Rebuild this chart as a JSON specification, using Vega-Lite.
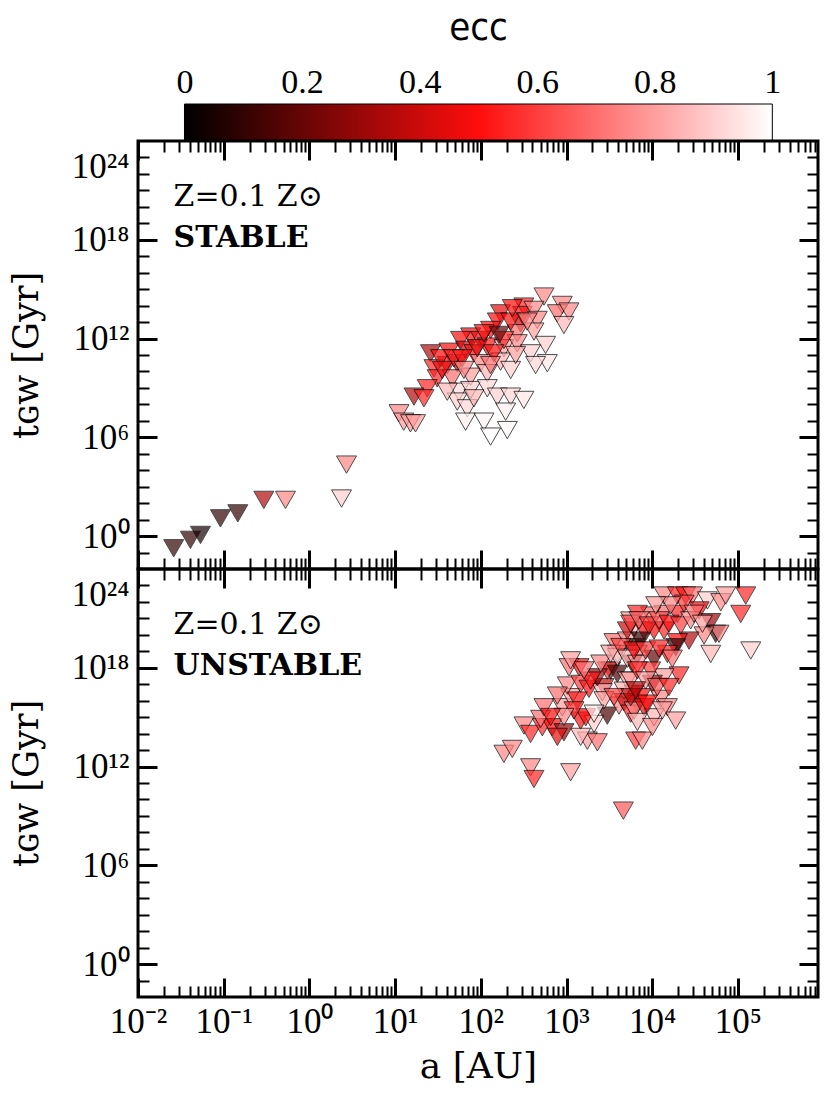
{
  "$schema": "https://vega.github.io/schema/vega-lite/v6.json",
  "padding": {"left": 7, "top": 9, "right": 0, "bottom": 0},
  "spacing": 0,
  "bounds": "flush",
  "config": {
    "font": "Liberation Serif",
    "view": {"stroke": "#000", "strokeWidth": 3},
    "axis": {"grid": false, "labelColor": "#000", "tickColor": "#000", "titleColor": "#000", "domain": false}
  },
  "datasets": {
    "top": [
      {"a": 546, "t": 3.55e14, "ecc": 0.75},
      {"a": 893, "t": 1.10e14, "ecc": 0.75},
      {"a": 780, "t": 3.39e13, "ecc": 0.7},
      {"a": 1069, "t": 4.37e13, "ecc": 0.75},
      {"a": 933, "t": 6.61e12, "ecc": 0.85},
      {"a": 318, "t": 8.71e13, "ecc": 0.55},
      {"a": 170, "t": 3.39e13, "ecc": 0.45},
      {"a": 305, "t": 2.69e13, "ecc": 0.5},
      {"a": 417, "t": 5.50e13, "ecc": 0.75},
      {"a": 456, "t": 1.35e13, "ecc": 0.75},
      {"a": 156, "t": 1.07e13, "ecc": 0.5},
      {"a": 291, "t": 8.51e12, "ecc": 0.4},
      {"a": 130, "t": 3.31e12, "ecc": 0.5},
      {"a": 266, "t": 2.09e12, "ecc": 0.7},
      {"a": 417, "t": 2.63e12, "ecc": 0.8},
      {"a": 570, "t": 4.07e11, "ecc": 0.9},
      {"a": 76.0, "t": 1.32e12, "ecc": 0.5},
      {"a": 58.1, "t": 8.13e11, "ecc": 0.5},
      {"a": 99.3, "t": 8.13e11, "ecc": 0.45},
      {"a": 119, "t": 3.24e11, "ecc": 0.52},
      {"a": 25.9, "t": 1.26e11, "ecc": 0.35},
      {"a": 42.5, "t": 1.58e11, "ecc": 0.5},
      {"a": 66.4, "t": 2.04e11, "ecc": 0.4},
      {"a": 83.2, "t": 1.26e11, "ecc": 0.5},
      {"a": 186, "t": 2.57e11, "ecc": 0.8},
      {"a": 266, "t": 5.13e11, "ecc": 0.75},
      {"a": 381, "t": 1.26e11, "ecc": 0.9},
      {"a": 597, "t": 3.16e10, "ecc": 0.95},
      {"a": 436, "t": 2.45e10, "ecc": 0.92},
      {"a": 28.4, "t": 1.55e10, "ecc": 0.55},
      {"a": 40.6, "t": 2.45e10, "ecc": 0.5},
      {"a": 53.1, "t": 3.16e10, "ecc": 0.4},
      {"a": 99.3, "t": 3.16e10, "ecc": 0.75},
      {"a": 170, "t": 3.98e10, "ecc": 0.85},
      {"a": 223, "t": 1.23e10, "ecc": 0.9},
      {"a": 31.0, "t": 3.80e9, "ecc": 0.55},
      {"a": 46.5, "t": 3.80e9, "ecc": 0.7},
      {"a": 76.0, "t": 4.79e9, "ecc": 0.8},
      {"a": 119, "t": 7.76e9, "ecc": 0.85},
      {"a": 23.7, "t": 9.55e8, "ecc": 0.55},
      {"a": 16.6, "t": 2.95e8, "ecc": 0.35},
      {"a": 21.7, "t": 2.34e8, "ecc": 0.55},
      {"a": 55.5, "t": 5.89e8, "ecc": 0.93},
      {"a": 76.0, "t": 7.41e8, "ecc": 0.9},
      {"a": 119, "t": 9.55e8, "ecc": 0.92},
      {"a": 156, "t": 2.95e8, "ecc": 0.9},
      {"a": 223, "t": 2.95e8, "ecc": 0.92},
      {"a": 318, "t": 1.86e8, "ecc": 0.95},
      {"a": 53.1, "t": 1.48e8, "ecc": 0.9},
      {"a": 69.5, "t": 5.75e7, "ecc": 0.92},
      {"a": 195, "t": 3.63e7, "ecc": 0.97},
      {"a": 11.1, "t": 2.88e7, "ecc": 0.75},
      {"a": 12.6, "t": 8.91e6, "ecc": 0.8},
      {"a": 15.1, "t": 7.08e6, "ecc": 0.78},
      {"a": 17.3, "t": 7.08e6, "ecc": 0.8},
      {"a": 66.4, "t": 8.91e6, "ecc": 0.97},
      {"a": 109, "t": 8.91e6, "ecc": 0.98},
      {"a": 204, "t": 2.75e6, "ecc": 0.99},
      {"a": 130, "t": 1.10e6, "ecc": 1.0},
      {"a": 33.9, "t": 6.31e10, "ecc": 0.5},
      {"a": 48.5, "t": 6.31e10, "ecc": 0.55},
      {"a": 60.7, "t": 6.31e10, "ecc": 0.5},
      {"a": 91.0, "t": 2.57e11, "ecc": 0.45},
      {"a": 109, "t": 2.09e12, "ecc": 0.5},
      {"a": 223, "t": 1.07e13, "ecc": 0.5},
      {"a": 233, "t": 6.92e13, "ecc": 0.5},
      {"a": 186, "t": 8.13e11, "ecc": 0.55},
      {"a": 142, "t": 1.26e11, "ecc": 0.5},
      {"a": 35.5, "t": 1.23e10, "ecc": 0.45},
      {"a": 63.5, "t": 1.23e10, "ecc": 0.75},
      {"a": 130, "t": 2.45e10, "ecc": 0.7},
      {"a": 255, "t": 1.00e11, "ecc": 0.8},
      {"a": 348, "t": 1.07e13, "ecc": 0.75},
      {"a": 40.6, "t": 5.89e8, "ecc": 0.85},
      {"a": 83.2, "t": 2.34e8, "ecc": 0.85},
      {"a": 163, "t": 1.66e12, "ecc": 0.2},
      {"a": 2.71, "t": 2.19e4, "ecc": 0.75},
      {"a": 2.37, "t": 191, "ecc": 0.9},
      {"a": 0.0261, "t": 0.182, "ecc": 0.1},
      {"a": 0.0409, "t": 0.589, "ecc": 0.1},
      {"a": 0.0536, "t": 1.17, "ecc": 0.05},
      {"a": 0.0916, "t": 12.0, "ecc": 0.1},
      {"a": 0.146, "t": 24.0, "ecc": 0.1},
      {"a": 0.294, "t": 158, "ecc": 0.35},
      {"a": 0.526, "t": 158, "ecc": 0.75}
    ],
    "bottom": [
      {"a": 186, "t": 5.89e12, "ecc": 0.75},
      {"a": 233, "t": 1.17e13, "ecc": 0.75},
      {"a": 381, "t": 8.91e11, "ecc": 0.75},
      {"a": 417, "t": 1.74e11, "ecc": 0.55},
      {"a": 1117, "t": 4.47e11, "ecc": 0.8},
      {"a": 4603, "t": 2.09e9, "ecc": 0.65},
      {"a": 319, "t": 3.09e14, "ecc": 0.75},
      {"a": 381, "t": 9.55e13, "ecc": 0.55},
      {"a": 522, "t": 2.45e14, "ecc": 0.55},
      {"a": 682, "t": 2.45e14, "ecc": 0.5},
      {"a": 933, "t": 1.20e14, "ecc": 0.3},
      {"a": 499, "t": 7.76e14, "ecc": 0.7},
      {"a": 546, "t": 3.98e15, "ecc": 0.7},
      {"a": 893, "t": 3.98e15, "ecc": 0.8},
      {"a": 1117, "t": 1.62e16, "ecc": 0.8},
      {"a": 1462, "t": 6.17e14, "ecc": 0.5},
      {"a": 1750, "t": 3.72e13, "ecc": 0.8},
      {"a": 2291, "t": 2.95e13, "ecc": 0.7},
      {"a": 2094, "t": 3.89e14, "ecc": 0.9},
      {"a": 2992, "t": 1.23e15, "ecc": 0.15},
      {"a": 4102, "t": 5.01e15, "ecc": 0.75},
      {"a": 1069, "t": 1.07e18, "ecc": 0.7},
      {"a": 1400, "t": 1.07e18, "ecc": 0.5},
      {"a": 1021, "t": 8.32e16, "ecc": 0.75},
      {"a": 1462, "t": 1.05e17, "ecc": 0.6},
      {"a": 1828, "t": 5.25e16, "ecc": 0.5},
      {"a": 2735, "t": 6.61e16, "ecc": 0.4},
      {"a": 3273, "t": 6.76e17, "ecc": 0.2},
      {"a": 2992, "t": 6.76e17, "ecc": 0.6},
      {"a": 3917, "t": 4.27e17, "ecc": 0.15},
      {"a": 3917, "t": 6.92e18, "ecc": 0.8},
      {"a": 3581, "t": 3.55e19, "ecc": 0.7},
      {"a": 5129, "t": 4.47e19, "ecc": 0.8},
      {"a": 6138, "t": 2.88e20, "ecc": 0.85},
      {"a": 6412, "t": 1.78e19, "ecc": 0.1},
      {"a": 5129, "t": 1.66e17, "ecc": 0.8},
      {"a": 6138, "t": 2.57e16, "ecc": 0.5},
      {"a": 4688, "t": 4.07e16, "ecc": 0.85},
      {"a": 2618, "t": 3.24e16, "ecc": 0.85},
      {"a": 782, "t": 2.04e16, "ecc": 0.7},
      {"a": 6412, "t": 3.72e13, "ecc": 0.6},
      {"a": 3917, "t": 4.37e18, "ecc": 0.9},
      {"a": 5610, "t": 7.41e20, "ecc": 0.8},
      {"a": 5129, "t": 1.82e20, "ecc": 0.4},
      {"a": 6714, "t": 6.92e18, "ecc": 0.7},
      {"a": 5861, "t": 1.74e18, "ecc": 0.3},
      {"a": 2291, "t": 2.63e17, "ecc": 0.3},
      {"a": 1914, "t": 1.66e17, "ecc": 0.5},
      {"a": 1337, "t": 1.02e16, "ecc": 0.5},
      {"a": 1675, "t": 9.77e14, "ecc": 0.5},
      {"a": 4688, "t": 8.13e15, "ecc": 0.4},
      {"a": 6714, "t": 6.31e15, "ecc": 0.5},
      {"a": 1117, "t": 2.82e18, "ecc": 0.8},
      {"a": 1600, "t": 6.92e17, "ecc": 0.7},
      {"a": 2506, "t": 1.78e18, "ecc": 0.75},
      {"a": 3273, "t": 7.08e18, "ecc": 0.8},
      {"a": 4285, "t": 1.82e19, "ecc": 0.6},
      {"a": 5129, "t": 3.55e18, "ecc": 0.85},
      {"a": 2735, "t": 1.05e16, "ecc": 0.8},
      {"a": 3581, "t": 1.66e16, "ecc": 0.6},
      {"a": 1222, "t": 2.57e15, "ecc": 0.55},
      {"a": 933, "t": 1.02e15, "ecc": 0.75},
      {"a": 653, "t": 1.02e15, "ecc": 0.5},
      {"a": 782, "t": 6.31e13, "ecc": 0.45},
      {"a": 1462, "t": 6.31e13, "ecc": 0.85},
      {"a": 2094, "t": 1.62e15, "ecc": 0.95},
      {"a": 5610, "t": 1.62e15, "ecc": 0.55},
      {"a": 13740, "t": 2.45e22, "ecc": 0.75},
      {"a": 19680, "t": 2.45e22, "ecc": 0.55},
      {"a": 24600, "t": 2.45e22, "ecc": 0.5},
      {"a": 29440, "t": 2.45e22, "ecc": 0.7},
      {"a": 44060, "t": 1.23e22, "ecc": 0.9},
      {"a": 63100, "t": 9.55e21, "ecc": 0.75},
      {"a": 72110, "t": 2.45e22, "ecc": 0.8},
      {"a": 123300, "t": 2.45e22, "ecc": 0.55},
      {"a": 107900, "t": 1.86e21, "ecc": 0.55},
      {"a": 141300, "t": 1.12e19, "ecc": 0.9},
      {"a": 35240, "t": 3.02e21, "ecc": 0.5},
      {"a": 48190, "t": 5.89e20, "ecc": 0.3},
      {"a": 55080, "t": 1.15e20, "ecc": 0.1},
      {"a": 60260, "t": 1.15e20, "ecc": 0.75},
      {"a": 40270, "t": 9.12e19, "ecc": 0.75},
      {"a": 48190, "t": 6.92e18, "ecc": 0.85},
      {"a": 26920, "t": 4.47e19, "ecc": 0.35},
      {"a": 19680, "t": 3.55e19, "ecc": 0.5},
      {"a": 18790, "t": 1.78e19, "ecc": 0.1},
      {"a": 13740, "t": 1.82e20, "ecc": 0.55},
      {"a": 10500, "t": 1.82e20, "ecc": 0.5},
      {"a": 8035, "t": 1.82e20, "ecc": 0.5},
      {"a": 7345, "t": 4.47e19, "ecc": 0.1},
      {"a": 13740, "t": 1.86e21, "ecc": 0.7},
      {"a": 9594, "t": 1.48e21, "ecc": 0.7},
      {"a": 19680, "t": 1.86e21, "ecc": 0.55},
      {"a": 15030, "t": 6.92e18, "ecc": 0.55},
      {"a": 10500, "t": 3.47e18, "ecc": 0.2},
      {"a": 20560, "t": 3.39e17, "ecc": 0.55},
      {"a": 13740, "t": 2.63e17, "ecc": 0.8},
      {"a": 9594, "t": 6.76e17, "ecc": 0.6},
      {"a": 10050, "t": 1.05e17, "ecc": 0.3},
      {"a": 7345, "t": 1.62e16, "ecc": 0.5},
      {"a": 12560, "t": 1.29e16, "ecc": 0.75},
      {"a": 15030, "t": 3.98e15, "ecc": 0.75},
      {"a": 10500, "t": 9.77e14, "ecc": 0.85},
      {"a": 18790, "t": 6.17e14, "ecc": 0.8},
      {"a": 7674, "t": 3.72e13, "ecc": 0.75},
      {"a": 6138, "t": 2.51e15, "ecc": 0.75},
      {"a": 6714, "t": 1.74e18, "ecc": 0.8},
      {"a": 6714, "t": 1.86e21, "ecc": 0.55},
      {"a": 6138, "t": 1.12e19, "ecc": 0.5},
      {"a": 5610, "t": 1.66e17, "ecc": 0.8},
      {"a": 5610, "t": 1.62e16, "ecc": 0.4},
      {"a": 8035, "t": 3.98e15, "ecc": 0.45},
      {"a": 5610, "t": 4.68e20, "ecc": 0.6},
      {"a": 7015, "t": 7.59e20, "ecc": 0.7},
      {"a": 9183, "t": 3.72e20, "ecc": 0.55},
      {"a": 12020, "t": 7.59e20, "ecc": 0.65},
      {"a": 15700, "t": 4.68e20, "ecc": 0.5},
      {"a": 21530, "t": 3.72e20, "ecc": 0.6},
      {"a": 28120, "t": 7.59e20, "ecc": 0.75},
      {"a": 8395, "t": 1.12e19, "ecc": 0.6},
      {"a": 12020, "t": 1.45e19, "ecc": 0.55},
      {"a": 17180, "t": 3.55e18, "ecc": 0.7},
      {"a": 6714, "t": 6.92e17, "ecc": 0.55},
      {"a": 8395, "t": 1.70e17, "ecc": 0.8},
      {"a": 11480, "t": 6.76e16, "ecc": 0.65},
      {"a": 15700, "t": 6.76e16, "ecc": 0.55},
      {"a": 6412, "t": 4.27e16, "ecc": 0.35},
      {"a": 8790, "t": 6.61e15, "ecc": 0.5},
      {"a": 13150, "t": 2.57e15, "ecc": 0.8},
      {"a": 6714, "t": 5.13e14, "ecc": 0.85},
      {"a": 10050, "t": 2.51e14, "ecc": 0.75},
      {"a": 23550, "t": 7.76e21, "ecc": 0.6},
      {"a": 16440, "t": 6.17e21, "ecc": 0.75},
      {"a": 10990, "t": 6.17e21, "ecc": 0.8},
      {"a": 30760, "t": 1.91e21, "ecc": 0.7},
      {"a": 38550, "t": 4.68e20, "ecc": 0.8}
    ],
    "annTop": [{"a": 0.026, "t1": 4.0e20, "t2": 1.26e18, "line1": "Z=0.1 Z⊙", "line2": "STABLE"}],
    "annBot": [{"a": 0.026, "t1": 4.0e20, "t2": 1.26e18, "line1": "Z=0.1 Z⊙", "line2": "UNSTABLE"}],
    "bar": [{"lo": 0, "hi": 1, "b0": 0, "b1": 1}]
  },
  "vconcat": [
    {
      "width": 680,
      "height": 37,
      "view": {"stroke": null},
      "data": {"name": "bar"},
      "resolve": {"axis": {"x": "independent"}},
      "layer": [
        {
          "mark": {"type": "rect", "fill": {"x1": 0, "y1": 0, "x2": 1, "y2": 0, "gradient": "linear", "stops": [{"offset": 0, "color": "#000000"}, {"offset": 0.5, "color": "#ff0d0d"}, {"offset": 1, "color": "#ffffff"}]}},
          "encoding": {
            "x": {"field": "lo", "type": "quantitative", "scale": {"domain": [-0.0791, 1.0777], "nice": false, "zero": false},
              "axis": {"orient": "top", "values": [0, 0.2, 0.4, 0.6, 0.8, 1], "ticks": false, "domain": false, "labelFlush": false, "labelOverlap": false,
                "labelExpr": "datum.value == 0 ? '0' : datum.value == 1 ? '1' : format(datum.value, '.1f')",
                "labelFont": "Liberation Serif", "labelFontSize": 34, "labelPadding": 5,
                "title": "ecc", "titleFont": "Liberation Sans Narrow, DejaVu Sans Condensed, Liberation Sans", "titleFontSize": 38, "titleFontWeight": "normal", "titlePadding": 18}},
            "x2": {"field": "hi"},
            "y": {"field": "b0", "type": "quantitative", "scale": {"domain": [0, 1], "nice": false}, "axis": null},
            "y2": {"field": "b1"}
          }
        },
        {
          "mark": {"type": "rect", "fill": "transparent", "stroke": "#000", "strokeWidth": 1},
          "encoding": {
            "x": {"field": "lo", "type": "quantitative", "scale": {"domain": [-0.0791, 1.0777], "nice": false, "zero": false},
              "axis": {"orient": "top", "values": [0.05, 0.1, 0.15, 0.2, 0.25, 0.3, 0.35, 0.4, 0.45, 0.5, 0.55, 0.6, 0.65, 0.7, 0.75, 0.8, 0.85, 0.9, 0.95], "labels": false, "ticks": true, "tickSize": -6, "tickWidth": 1, "domain": false, "title": null}},
            "x2": {"field": "hi"},
            "y": {"field": "b0", "type": "quantitative", "scale": {"domain": [0, 1], "nice": false}, "axis": null},
            "y2": {"field": "b1"}
          }
        }
      ]
    },
    {
      "width": 680,
      "height": 428,
      "resolve": {"axis": {"x": "independent", "y": "independent"}},
      "layer": [
        {
          "data": {"name": "top"},
          "mark": {"type": "point", "shape": "triangle-down", "filled": true, "size": 400, "opacity": 0.7, "stroke": "#000", "strokeWidth": 1},
          "encoding": {
            "x": {"field": "a", "type": "quantitative", "scale": {"type": "log", "domain": [0.01, 860000], "nice": false}, "axis": null},
            "y": {"field": "t", "type": "quantitative", "scale": {"type": "log", "domain": [0.01, 1e24], "nice": false},
              "axis": {"orient": "left", "values": [1, 1e6, 1e12, 1e18, 1e24], "ticks": false, "domain": false, "labelFlush": true, "labelFlushOffset": -8, "labelOverlap": false,
                "labelExpr": "['10⁰','10⁶','10¹²','10¹⁸','10²⁴'][round(log(datum.value)/LN10/6)]",
                "labelFont": "Liberation Serif", "labelFontSize": 35, "labelPadding": 9,
                "title": "tɢᴡ [Gyr]", "titleFont": "DejaVu Serif", "titleFontSize": 35, "titleFontWeight": "normal", "titlePadding": 27}},
            "color": {"field": "ecc", "type": "quantitative", "scale": {"type": "linear", "domain": [0, 0.5, 1], "range": ["#000000", "#ff0d0d", "#ffffff"], "interpolate": "rgb", "zero": false, "nice": false}, "legend": null}
          }
        },
        {
          "data": {"name": "annTop"},
          "mark": {"type": "text", "align": "left", "baseline": "middle", "font": "DejaVu Serif", "fontSize": 30, "color": "#000"},
          "encoding": {
            "x": {"field": "a", "type": "quantitative", "scale": {"type": "log", "domain": [0.01, 860000], "nice": false},
              "axis": {"orient": "bottom", "values": [0.01, 0.1, 1, 10, 100, 1000, 10000, 100000], "labels": false, "ticks": true, "tickSize": -19, "tickWidth": 3, "domain": false, "title": null}},
            "y": {"field": "t1", "type": "quantitative", "scale": {"type": "log", "domain": [0.01, 1e24], "nice": false},
              "axis": {"orient": "left", "values": [1, 1e6, 1e12, 1e18], "labels": false, "ticks": true, "tickSize": -19, "tickWidth": 3, "domain": false, "title": null}},
            "text": {"field": "line1"}
          }
        },
        {
          "data": {"name": "annTop"},
          "mark": {"type": "text", "align": "left", "baseline": "middle", "font": "DejaVu Serif", "fontSize": 30, "fontWeight": "bold", "color": "#000"},
          "encoding": {
            "x": {"field": "a", "type": "quantitative", "scale": {"type": "log", "domain": [0.01, 860000], "nice": false},
              "axis": {"orient": "bottom", "values": [0.02, 0.03, 0.04, 0.05, 0.06, 0.07, 0.08, 0.09, 0.2, 0.3, 0.4, 0.5, 0.6, 0.7, 0.8, 0.9, 2, 3, 4, 5, 6, 7, 8, 9, 20, 30, 40, 50, 60, 70, 80, 90, 200, 300, 400, 500, 600, 700, 800, 900, 2000, 3000, 4000, 5000, 6000, 7000, 8000, 9000, 20000, 30000, 40000, 50000, 60000, 70000, 80000, 90000, 200000, 300000, 400000, 500000, 600000, 700000, 800000], "labels": false, "ticks": true, "tickSize": -11, "tickWidth": 2, "domain": false, "title": null}},
            "y": {"field": "t2", "type": "quantitative", "scale": {"type": "log", "domain": [0.01, 1e24], "nice": false},
              "axis": {"orient": "left", "values": [0.1, 10, 100, 1000, 10000, 100000, 1e7, 1e8, 1e9, 1e10, 1e11, 1e13, 1e14, 1e15, 1e16, 1e17, 1e19, 1e20, 1e21, 1e22, 1e23], "labels": false, "ticks": true, "tickSize": -11, "tickWidth": 2, "domain": false, "title": null}},
            "text": {"field": "line2"}
          }
        },
        {
          "data": {"name": "annTop"},
          "mark": {"type": "point", "opacity": 0},
          "encoding": {
            "x": {"field": "a", "type": "quantitative", "scale": {"type": "log", "domain": [0.01, 860000], "nice": false},
              "axis": {"orient": "top", "values": [0.01, 0.1, 1, 10, 100, 1000, 10000, 100000], "labels": false, "ticks": true, "tickSize": -19, "tickWidth": 3, "domain": false, "title": null}},
            "y": {"field": "t1", "type": "quantitative", "scale": {"type": "log", "domain": [0.01, 1e24], "nice": false},
              "axis": {"orient": "right", "values": [1, 1e6, 1e12, 1e18], "labels": false, "ticks": true, "tickSize": -19, "tickWidth": 3, "domain": false, "title": null}}
          }
        },
        {
          "data": {"name": "annTop"},
          "mark": {"type": "point", "opacity": 0},
          "encoding": {
            "x": {"field": "a", "type": "quantitative", "scale": {"type": "log", "domain": [0.01, 860000], "nice": false},
              "axis": {"orient": "top", "values": [0.02, 0.03, 0.04, 0.05, 0.06, 0.07, 0.08, 0.09, 0.2, 0.3, 0.4, 0.5, 0.6, 0.7, 0.8, 0.9, 2, 3, 4, 5, 6, 7, 8, 9, 20, 30, 40, 50, 60, 70, 80, 90, 200, 300, 400, 500, 600, 700, 800, 900, 2000, 3000, 4000, 5000, 6000, 7000, 8000, 9000, 20000, 30000, 40000, 50000, 60000, 70000, 80000, 90000, 200000, 300000, 400000, 500000, 600000, 700000, 800000], "labels": false, "ticks": true, "tickSize": -11, "tickWidth": 2, "domain": false, "title": null}},
            "y": {"field": "t2", "type": "quantitative", "scale": {"type": "log", "domain": [0.01, 1e24], "nice": false},
              "axis": {"orient": "right", "values": [0.1, 10, 100, 1000, 10000, 100000, 1e7, 1e8, 1e9, 1e10, 1e11, 1e13, 1e14, 1e15, 1e16, 1e17, 1e19, 1e20, 1e21, 1e22, 1e23], "labels": false, "ticks": true, "tickSize": -11, "tickWidth": 2, "domain": false, "title": null}}
          }
        }
      ]
    },
    {
      "width": 680,
      "height": 428,
      "resolve": {"axis": {"x": "independent", "y": "independent"}},
      "layer": [
        {
          "data": {"name": "bottom"},
          "mark": {"type": "point", "shape": "triangle-down", "filled": true, "size": 400, "opacity": 0.7, "stroke": "#000", "strokeWidth": 1},
          "encoding": {
            "x": {"field": "a", "type": "quantitative", "scale": {"type": "log", "domain": [0.01, 860000], "nice": false},
              "axis": {"orient": "bottom", "values": [0.01, 0.1, 1, 10, 100, 1000, 10000, 100000], "ticks": false, "domain": false, "labelFlush": false, "labelOverlap": false,
                "labelExpr": "['10⁻²','10⁻¹','10⁰','10¹','10²','10³','10⁴','10⁵'][round(log(datum.value)/LN10)+2]",
                "labelFont": "Liberation Serif", "labelFontSize": 35, "labelPadding": 7,
                "title": "a [AU]", "titleFont": "DejaVu Serif", "titleFontSize": 36, "titleFontWeight": "normal", "titlePadding": 10}},
            "y": {"field": "t", "type": "quantitative", "scale": {"type": "log", "domain": [0.01, 1e24], "nice": false},
              "axis": {"orient": "left", "values": [1, 1e6, 1e12, 1e18, 1e24], "ticks": false, "domain": false, "labelFlush": true, "labelFlushOffset": -8, "labelOverlap": false,
                "labelExpr": "['10⁰','10⁶','10¹²','10¹⁸','10²⁴'][round(log(datum.value)/LN10/6)]",
                "labelFont": "Liberation Serif", "labelFontSize": 35, "labelPadding": 9,
                "title": "tɢᴡ [Gyr]", "titleFont": "DejaVu Serif", "titleFontSize": 35, "titleFontWeight": "normal", "titlePadding": 27}},
            "color": {"field": "ecc", "type": "quantitative", "scale": {"type": "linear", "domain": [0, 0.5, 1], "range": ["#000000", "#ff0d0d", "#ffffff"], "interpolate": "rgb", "zero": false, "nice": false}, "legend": null}
          }
        },
        {
          "data": {"name": "annBot"},
          "mark": {"type": "text", "align": "left", "baseline": "middle", "font": "DejaVu Serif", "fontSize": 30, "color": "#000"},
          "encoding": {
            "x": {"field": "a", "type": "quantitative", "scale": {"type": "log", "domain": [0.01, 860000], "nice": false},
              "axis": {"orient": "bottom", "values": [0.01, 0.1, 1, 10, 100, 1000, 10000, 100000], "labels": false, "ticks": true, "tickSize": -19, "tickWidth": 3, "domain": false, "title": null}},
            "y": {"field": "t1", "type": "quantitative", "scale": {"type": "log", "domain": [0.01, 1e24], "nice": false},
              "axis": {"orient": "left", "values": [1, 1e6, 1e12, 1e18], "labels": false, "ticks": true, "tickSize": -19, "tickWidth": 3, "domain": false, "title": null}},
            "text": {"field": "line1"}
          }
        },
        {
          "data": {"name": "annBot"},
          "mark": {"type": "text", "align": "left", "baseline": "middle", "font": "DejaVu Serif", "fontSize": 30, "fontWeight": "bold", "color": "#000"},
          "encoding": {
            "x": {"field": "a", "type": "quantitative", "scale": {"type": "log", "domain": [0.01, 860000], "nice": false},
              "axis": {"orient": "bottom", "values": [0.02, 0.03, 0.04, 0.05, 0.06, 0.07, 0.08, 0.09, 0.2, 0.3, 0.4, 0.5, 0.6, 0.7, 0.8, 0.9, 2, 3, 4, 5, 6, 7, 8, 9, 20, 30, 40, 50, 60, 70, 80, 90, 200, 300, 400, 500, 600, 700, 800, 900, 2000, 3000, 4000, 5000, 6000, 7000, 8000, 9000, 20000, 30000, 40000, 50000, 60000, 70000, 80000, 90000, 200000, 300000, 400000, 500000, 600000, 700000, 800000], "labels": false, "ticks": true, "tickSize": -11, "tickWidth": 2, "domain": false, "title": null}},
            "y": {"field": "t2", "type": "quantitative", "scale": {"type": "log", "domain": [0.01, 1e24], "nice": false},
              "axis": {"orient": "left", "values": [0.1, 10, 100, 1000, 10000, 100000, 1e7, 1e8, 1e9, 1e10, 1e11, 1e13, 1e14, 1e15, 1e16, 1e17, 1e19, 1e20, 1e21, 1e22, 1e23], "labels": false, "ticks": true, "tickSize": -11, "tickWidth": 2, "domain": false, "title": null}},
            "text": {"field": "line2"}
          }
        },
        {
          "data": {"name": "annBot"},
          "mark": {"type": "point", "opacity": 0},
          "encoding": {
            "x": {"field": "a", "type": "quantitative", "scale": {"type": "log", "domain": [0.01, 860000], "nice": false},
              "axis": {"orient": "top", "values": [0.01, 0.1, 1, 10, 100, 1000, 10000, 100000], "labels": false, "ticks": true, "tickSize": -19, "tickWidth": 3, "domain": false, "title": null}},
            "y": {"field": "t1", "type": "quantitative", "scale": {"type": "log", "domain": [0.01, 1e24], "nice": false},
              "axis": {"orient": "right", "values": [1, 1e6, 1e12, 1e18], "labels": false, "ticks": true, "tickSize": -19, "tickWidth": 3, "domain": false, "title": null}}
          }
        },
        {
          "data": {"name": "annBot"},
          "mark": {"type": "point", "opacity": 0},
          "encoding": {
            "x": {"field": "a", "type": "quantitative", "scale": {"type": "log", "domain": [0.01, 860000], "nice": false},
              "axis": {"orient": "top", "values": [0.02, 0.03, 0.04, 0.05, 0.06, 0.07, 0.08, 0.09, 0.2, 0.3, 0.4, 0.5, 0.6, 0.7, 0.8, 0.9, 2, 3, 4, 5, 6, 7, 8, 9, 20, 30, 40, 50, 60, 70, 80, 90, 200, 300, 400, 500, 600, 700, 800, 900, 2000, 3000, 4000, 5000, 6000, 7000, 8000, 9000, 20000, 30000, 40000, 50000, 60000, 70000, 80000, 90000, 200000, 300000, 400000, 500000, 600000, 700000, 800000], "labels": false, "ticks": true, "tickSize": -11, "tickWidth": 2, "domain": false, "title": null}},
            "y": {"field": "t2", "type": "quantitative", "scale": {"type": "log", "domain": [0.01, 1e24], "nice": false},
              "axis": {"orient": "right", "values": [0.1, 10, 100, 1000, 10000, 100000, 1e7, 1e8, 1e9, 1e10, 1e11, 1e13, 1e14, 1e15, 1e16, 1e17, 1e19, 1e20, 1e21, 1e22, 1e23], "labels": false, "ticks": true, "tickSize": -11, "tickWidth": 2, "domain": false, "title": null}}
          }
        }
      ]
    }
  ]
}
